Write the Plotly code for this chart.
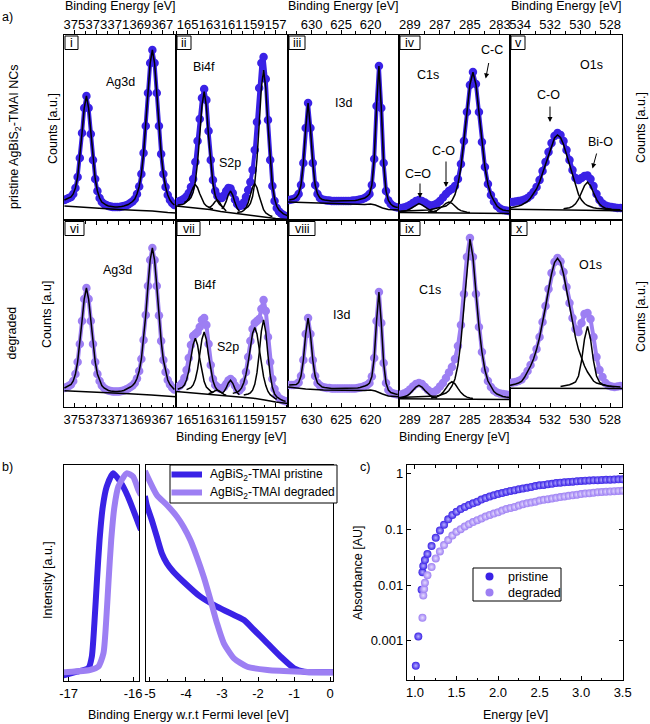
import plotly.graph_objects as go

W, H = 650, 724
FONT = "Liberation Sans"
PRIS = "#3a22e6"
DEGR = "#9d7ff3"
BLACK = "black"

# ======================= a) XPS data (counts, arb. units) =======================
# Energy grids: start value and step (eV, decreasing)
ag_from, ag_step = 375.9, 0.2
bi_from, bi_step = 165.9, 0.2
i3_from, i3_step = 633.8, 0.4
c1_from, c1_step = 289.8, 0.2
o1_from, o1_step = 534.7, 0.2

# --- i) pristine Ag3d
i_counts = [20, 21, 22, 23, 26, 32, 43, 62, 87, 112,
            124, 112, 86, 60, 41, 29, 22, 18, 16, 15,
            14, 13.5, 13, 13, 13, 13, 13.5, 14, 14.5, 15.5,
            17, 18.5, 21, 26, 33.5, 46, 67, 94, 127, 157,
            170, 157, 127, 94, 66, 46, 33, 25, 20, 17,
            15]
i_bg_E = [375.9, 374.5, 373.0, 371.0, 369.0, 367.9, 366.5, 365.7]
i_bg = [14, 13, 11.5, 10.5, 9.5, 9, 7.5, 7]

# --- ii) pristine Bi4f / S2p
ii_counts = [18, 19, 20, 21.5, 23.5, 27, 33, 41, 58, 79,
             101, 122, 131, 120, 89, 60, 40, 29, 24, 22.5,
             22, 24.5, 29, 32, 31.5, 27, 20.5, 16, 14, 14.5,
             17.5, 23, 30, 38, 50, 70, 98, 132, 157, 163,
             141, 100, 60, 34, 19, 12, 8.5, 6.5, 5, 4,
             3.5]
ii_bi52b_from = 165.9
ii_bi52b = [14.9, 15.1, 15.4, 16.3, 18.3, 21.9, 27.1, 32.7, 35.3, 32.3, 26.3, 20.6, 16.5, 14, 12.6, 11.8, 11]
ii_bi52_from = 165.3
ii_bi52 = [17.5, 18.4, 19.8, 22.4, 27.8, 38.6, 57.6, 85.1, 114.4, 128.3, 113.8, 83.9, 55.9, 36.3, 24.8, 18.8, 15.6, 13.6, 12.2]
ii_s2p_a_from = 163.1
ii_s2p_a = [12.1, 13.3, 15.5, 18.5, 20.1, 17.7, 13.8, 10.9, 9]
ii_s2p_b_from = 161.9
ii_s2p_b = [11.2, 13.7, 18.6, 25.3, 29, 24.7, 17.4, 11.8, 8.7]
ii_bi72b_from = 160.5
ii_bi72b = [7.6, 7.7, 8.2, 9.5, 12.2, 17.2, 24.8, 32.8, 36.5, 32.3, 23.9, 15.9, 10.3, 7.1, 5.2, 4.2, 3.5]
ii_bi72_from = 159.9
ii_bi72 = [10.5, 11.5, 13.3, 16.6, 23.5, 37, 60.7, 95.5, 132.3, 150, 131.8, 94.5, 59.3, 35, 21.1, 13.7, 10, 7.7, 6.2, 5.1, 4.2]
ii_bg_E = [166.1, 165, 164, 163, 162, 161, 160, 159, 158, 157, 155.8]
ii_bg = [14, 13, 12, 10.5, 8.5, 7, 5.5, 4, 3, 1.5, 0.5]

# --- iii) pristine I3d
iii_counts = [20, 20.5, 21, 22.5, 26, 35, 57, 92, 117, 92,
              57, 35, 26, 22, 20.5, 20, 19.5, 19.5, 19, 19,
              19, 19, 19, 19, 19, 19, 19, 19.5, 19.5, 20,
              20.5, 21, 22, 23.5, 26, 35, 61, 114, 154, 112,
              57, 29, 19.5, 16, 14, 13, 12.5]
iii_bg_E = [634.1, 631, 628, 624, 621, 620, 619.2, 618, 617, 615.1]
iii_bg = [18, 17.5, 16.5, 16, 15.5, 16, 15, 12, 10.5, 10]

# --- iv) pristine C1s
iv_counts = [11.5, 12, 12.5, 13.5, 15, 17, 19, 20, 19, 17.5,
             15.5, 14.5, 15, 16.5, 19, 22.5, 26, 29, 31, 34,
             41, 56, 79, 108, 135, 148, 136, 108, 78, 53,
             36, 25, 18.5, 14, 11.5, 10, 9.5, 9, 8.7]
iv_cc = [8.6, 8.7, 8.7, 8.8, 8.9, 9.0, 9.2, 9.4, 9.5, 9.8,
         10, 10.4, 11, 11.5, 12.2, 13.2, 14, 16.2, 19.5, 25.3,
         35.8, 52.7, 77.4, 107.6, 135.5, 147.8, 135.5, 107.5, 77.2, 52.5,
         35.6, 25, 19.1, 14, 11.5, 10, 9.5, 9, 8.7]
iv_cdo_from = 289.6
iv_cdo = [8.4, 8.7, 9.5, 11, 13, 15.3, 16.4, 15.2, 12.9, 10.7, 9.2, 8.4, 7.9]
iv_co_from = 287.8
iv_co = [7.9, 8.1, 8.6, 9.6, 11.4, 14, 16.7, 18, 16.7, 13.9, 11.2, 9.4, 8.3, 7.8, 7.5]
iv_bg_E = [289.9, 287, 285, 282.2]
iv_bg = [7.6, 7.1, 6.8, 6.5]

# --- v) pristine O1s
v_counts = [18, 18, 18.5, 19, 19.5, 20.5, 22, 24.5, 28, 33,
            40, 49, 58, 68, 77, 84, 87, 85, 79, 70,
            60, 50, 42, 40, 42, 44, 44.5, 41, 34, 26,
            20, 16.5, 14.5, 13.5, 13, 12.5, 12, 12]
v_co = [12, 12.5, 13, 14, 15, 16.5, 18.5, 22, 26, 31,
        38, 47, 56, 66, 75, 82, 85, 82.5, 75.5, 65.5,
        54.5, 43.5, 33.5, 25.5, 20, 16.5, 14.5, 13, 12.2, 11.7,
        11.3, 11, 10.8, 10.6, 10.5, 10.4, 10.3, 10.2]
v_bio_from = 531.1
v_bio = [11.2, 11.6, 12.3, 13.6, 16.2, 20.8, 27.3, 34.4, 37.8, 34.3, 27.2, 20.6, 15.9, 13.3, 11.8, 11.2, 10.8]
v_bg_E = [534.8, 527.1]
v_bg = [10.7, 9.3]

# --- vi) degraded Ag3d
vi_counts = [19, 20, 21, 22.5, 26, 33, 45, 63, 86, 108,
             119, 108, 86, 63, 45, 33, 26, 21.5, 19, 17.5,
             16.5, 16, 15.5, 15.5, 15.5, 15.5, 16, 16.5, 17.5, 18.5,
             20, 21.5, 24, 28.5, 36, 48, 67, 92, 121, 147,
             159, 147, 121, 91.5, 66, 47, 35, 27, 22.5, 19.5,
             17.5]
vi_bg_E = [375.9, 374, 372, 370, 368, 366, 365.7]
vi_bg = [16.3, 15.5, 14, 13.2, 12, 10.8, 10.3]

# --- vii) degraded Bi4f / S2p
vii_counts = [20, 21.5, 24, 29, 37, 49, 62, 71, 73, 75,
              80, 87, 89, 82, 63, 42, 28, 22, 20, 18.5,
              18.5, 20, 23, 26.5, 28, 26, 21.5, 17.5, 16.5, 19,
              25, 35, 50, 66, 78, 84, 86, 88, 98, 107,
              96, 70, 45, 28, 18, 12, 9, 7.5, 6.5, 5.8,
              5.3]
vii_bi52b_from = 165.9
vii_bi52b = [17.8, 18.4, 19.6, 22, 27, 35.9, 48.8, 62.4, 68.8, 62, 48, 34.7, 25.4, 20, 17.2, 15.6, 14.7]
vii_bi52_from = 165.1
vii_bi52 = [17.4, 18.1, 19.3, 22.1, 27.8, 37.7, 52.2, 67.8, 75, 67.4, 51.4, 36.5, 26.2, 20.1, 16.9, 15.3, 14.2]
vii_s2p_a_from = 163.1
vii_s2p_a = [13.3, 13.8, 14.8, 16.3, 17, 15.9, 14, 12.6, 11.7]
vii_s2p_b_from = 161.9
vii_s2p_b = [13.5, 15.4, 19, 24, 26.8, 23.7, 18.4, 14.5, 12.2]
vii_bi72b_from = 160.9
vii_bi72b = [13.6, 14, 14.9, 16.4, 19.1, 24.3, 32.6, 44.7, 59.7, 73.6, 79.6, 73.1, 58.7, 43.2, 30.3, 21.4, 15.6, 12.3, 10.2, 8.8, 7.8]
vii_bi72_from = 159.9
vii_bi72 = [12.1, 12.5, 13, 14.2, 16.8, 22.7, 34.3, 53.4, 75.9, 87.2, 75, 51.8, 32, 19.7, 13.2, 10, 8.3, 7.2, 6.3, 5.6]
vii_bg_E = [166.1, 165, 164, 163, 162, 161, 160, 159, 158, 157, 155.8]
vii_bg = [15.5, 14.5, 13.5, 12.5, 11.7, 10.8, 9.8, 8.7, 7, 5, 3.5]

# --- viii) degraded I3d
viii_counts = [22, 22, 22, 22.5, 24.5, 31, 47, 73, 89, 73,
               47, 31, 24, 21.5, 20, 19.5, 19, 19, 18.5, 18.5,
               18.5, 18.5, 18.5, 18.5, 18.5, 18.5, 18.5, 18.5, 18.5, 19,
               19.5, 20, 21, 22, 24, 30.5, 49, 86, 115, 84,
               44, 24, 17, 14.5, 13.5, 13, 12.5]
viii_bg_E = [634.1, 631, 628, 624, 621, 620, 619.2, 618, 617, 615.1]
viii_bg = [20, 18, 17, 16.5, 16.5, 17, 16, 13, 11, 10.3]

# --- ix) degraded C1s
ix_counts = [12, 12.5, 13.5, 15, 17.5, 20.5, 23, 24, 23, 20,
             17, 15, 15, 17, 20.5, 24, 29, 34.5, 40, 48,
             61, 82, 113, 150, 169, 150, 113, 80, 55, 37,
             26, 20, 16.5, 14.5, 13.5, 13, 12.5, 12, 12]
ix_cc = [9.4, 9.5, 9.5, 9.6, 9.7, 9.8, 9.9, 10, 10.1, 10.2,
         10.3, 10.4, 10.5, 11, 11.7, 12.5, 14, 16.5, 21, 28,
         42, 66, 100, 140, 168, 150, 113, 80, 55, 37,
         26, 20, 15.5, 13, 11.5, 10.5, 10, 9.5, 9.2]
ix_cdo_from = 289.6
ix_cdo = [9.3, 9.9, 11.2, 13.4, 16.5, 20, 21.6, 20, 16.4, 13.2, 11, 9.6, 8.9]
ix_co_from = 287.6
ix_co = [8.9, 9.3, 10.1, 11.8, 14.6, 18.7, 23.2, 25.3, 23.2, 18.6, 14.4, 11.6, 9.9, 9.1, 8.6]
ix_bg_E = [289.9, 286, 282.2]
ix_bg = [8.2, 7.7, 7.4]

# --- x) degraded O1s
x_counts = [24, 24.5, 25, 26, 27.5, 31, 36, 42, 49.5, 58,
            70, 85, 101, 118, 134, 145, 149, 145.5, 135, 120,
            104, 89, 78, 75, 84, 93, 94, 88, 70, 50,
            37, 30, 24, 21.5, 20.5, 20, 20.5, 21]
x_co = [21.5, 22, 23, 24, 25.5, 29.7, 35, 41, 48, 57.4,
        69.4, 83.7, 100, 117, 133, 144.4, 148.7, 144.4, 133, 117,
        100, 83.7, 69.4, 57.4, 48, 41, 35, 30, 26, 24,
        23, 22, 21.5, 21, 20.8, 20.5, 20.3, 20]
x_bio_from = 531.3
x_bio = [20.4, 20.8, 21.4, 22.3, 23.5, 25, 31, 46, 68, 80.7, 68, 46, 31, 25, 22.5, 21.5, 21, 20.6, 20.3]
x_bg_E = [534.8, 527.1]
x_bg = [18.7, 18.5]

# ======================= b) UPS =======================
b_lo_E_pris = [-17.1, -17.06, -16.87, -16.69, -16.64, -16.60, -16.56, -16.52, -16.47, -16.41, -16.31, -16.20, -16.08, -15.92, -15.88]
b_lo_I_pris = [5.5, 6, 9.3, 13.3, 24.3, 57.7, 101, 141, 174.3, 194.3, 207.7, 199.3, 184.3, 157.7, 151]
b_lo_E_degr = [-17.1, -17.06, -16.67, -16.54, -16.46, -16.42, -16.38, -16.34, -16.29, -16.23, -16.10, -16.00, -15.92, -15.88]
b_lo_I_degr = [8.5, 8.7, 11, 14.3, 27.7, 57.7, 101, 141, 174.3, 194.3, 207.7, 204.3, 191, 186]
b_hi_E_pris = [-5.14, -5.09, -4.95, -4.81, -4.67, -4.53, -4.35, -4.07, -3.60, -3.14, -2.67, -2.39, -2.11, -1.74, -1.37, -1.00, -0.72, 0.0, 0.1]
b_hi_I_pris = [185, 176, 161, 144.3, 127.7, 117.7, 109.3, 99.3, 84.3, 74.3, 66, 61, 51, 37.7, 24.3, 12.7, 9.3, 8.7, 8.7]
b_hi_E_degr = [-5.14, -5.09, -4.81, -4.53, -4.25, -4.07, -3.88, -3.70, -3.51, -3.32, -3.14, -2.95, -2.67, -2.30, -1.74, -0.81, 0.0, 0.1]
b_hi_I_degr = [210, 206, 186, 176, 164.3, 154.3, 141, 124.3, 104.3, 81, 57.7, 37.7, 22.7, 14.3, 11, 9.3, 8.7, 8.7]
b_names = ["AgBiS<sub>2</sub>-TMAI pristine", "AgBiS<sub>2</sub>-TMAI degraded"]

# ======================= c) Absorbance =======================
c_E_pris = [1.01, 1.04, 1.08, 1.09, 1.10, 1.12, 1.15] + [round(1.20 + 0.05 * k, 2) for k in range(47)]
c_A_pris = [0.00036, 0.0012, 0.0082, 0.017, 0.022, 0.028, 0.036,
            0.050, 0.070, 0.095, 0.12, 0.15, 0.18, 0.205, 0.23, 0.25, 0.27,
            0.29, 0.31, 0.34, 0.36, 0.385, 0.405, 0.425, 0.445, 0.465, 0.485,
            0.50, 0.52, 0.535, 0.55, 0.57, 0.59, 0.61, 0.62, 0.64, 0.65,
            0.67, 0.68, 0.69, 0.70, 0.71, 0.72, 0.73, 0.74, 0.745, 0.75,
            0.755, 0.76, 0.765, 0.77, 0.775, 0.78, 0.78]
c_E_degr = [1.09, 1.10, 1.11, 1.12, 1.15] + [round(1.20 + 0.05 * k, 2) for k in range(47)]
c_A_degr = [0.0026, 0.0065, 0.0085, 0.011, 0.015,
            0.021, 0.030, 0.040, 0.052, 0.064, 0.077, 0.090, 0.10, 0.112, 0.123,
            0.134, 0.145, 0.156, 0.168, 0.18, 0.19, 0.20, 0.215, 0.23, 0.24,
            0.25, 0.265, 0.28, 0.29, 0.30, 0.31, 0.325, 0.335, 0.345, 0.355,
            0.365, 0.375, 0.385, 0.395, 0.405, 0.415, 0.425, 0.435, 0.44, 0.45,
            0.46, 0.465, 0.47, 0.475, 0.48, 0.485, 0.49]
c_names = ["pristine", "degraded"]

# ======================= helpers =======================
def grid(start, step, n):
    return [round(start - step * k, 3) for k in range(n)]

def fx(p):
    return p / W

def fy(p):
    return 1 - p / H

def xn(k):
    return "x" if k == 1 else f"x{k}"

def yn(k):
    return "y" if k == 1 else f"y{k}"

fig = go.Figure()

def add_data(k, start, step, vals, color):
    fig.add_trace(go.Scatter(x=grid(start, step, len(vals)), y=vals, xaxis=xn(k), yaxis=yn(k),
                             mode="lines+markers", line=dict(color=color, width=4),
                             marker=dict(size=8.5, color=color), showlegend=False, hoverinfo="skip"))

def add_fit(k, start, step, vals):
    fig.add_trace(go.Scatter(x=grid(start, step, len(vals)), y=vals, xaxis=xn(k), yaxis=yn(k),
                             mode="lines", line=dict(color=BLACK, width=1.5),
                             showlegend=False, hoverinfo="skip"))

def add_bg(k, E, I):
    fig.add_trace(go.Scatter(x=E, y=I, xaxis=xn(k), yaxis=yn(k), mode="lines",
                             line=dict(color=BLACK, width=1.5), showlegend=False, hoverinfo="skip"))

# ---- panel a traces ----
add_data(1, ag_from, ag_step, i_counts, PRIS)
add_fit(1, ag_from, ag_step, i_counts)
add_bg(1, i_bg_E, i_bg)

add_data(2, bi_from, bi_step, ii_counts, PRIS)
for st, vals in [(ii_bi52b_from, ii_bi52b), (ii_bi52_from, ii_bi52), (ii_s2p_a_from, ii_s2p_a),
                 (ii_s2p_b_from, ii_s2p_b), (ii_bi72b_from, ii_bi72b), (ii_bi72_from, ii_bi72)]:
    add_fit(2, st, bi_step, vals)
add_bg(2, ii_bg_E, ii_bg)

add_data(3, i3_from, i3_step, iii_counts, PRIS)
add_fit(3, i3_from, i3_step, iii_counts)
add_bg(3, iii_bg_E, iii_bg)

add_data(4, c1_from, c1_step, iv_counts, PRIS)
add_fit(4, c1_from, c1_step, iv_cc)
add_fit(4, iv_cdo_from, c1_step, iv_cdo)
add_fit(4, iv_co_from, c1_step, iv_co)
add_bg(4, iv_bg_E, iv_bg)

add_data(5, o1_from, o1_step, v_counts, PRIS)
add_fit(5, o1_from, o1_step, v_co)
add_fit(5, v_bio_from, o1_step, v_bio)
add_bg(5, v_bg_E, v_bg)

add_data(6, ag_from, ag_step, vi_counts, DEGR)
add_fit(6, ag_from, ag_step, vi_counts)
add_bg(6, vi_bg_E, vi_bg)

add_data(7, bi_from, bi_step, vii_counts, DEGR)
for st, vals in [(vii_bi52b_from, vii_bi52b), (vii_bi52_from, vii_bi52), (vii_s2p_a_from, vii_s2p_a),
                 (vii_s2p_b_from, vii_s2p_b), (vii_bi72b_from, vii_bi72b), (vii_bi72_from, vii_bi72)]:
    add_fit(7, st, bi_step, vals)
add_bg(7, vii_bg_E, vii_bg)

add_data(8, i3_from, i3_step, viii_counts, DEGR)
add_fit(8, i3_from, i3_step, viii_counts)
add_bg(8, viii_bg_E, viii_bg)

add_data(9, c1_from, c1_step, ix_counts, DEGR)
add_fit(9, c1_from, c1_step, ix_cc)
add_fit(9, ix_cdo_from, c1_step, ix_cdo)
add_fit(9, ix_co_from, c1_step, ix_co)
add_bg(9, ix_bg_E, ix_bg)

add_data(10, o1_from, o1_step, x_counts, DEGR)
add_fit(10, o1_from, o1_step, x_co)
add_fit(10, x_bio_from, o1_step, x_bio)
add_bg(10, x_bg_E, x_bg)

# ---- panel b traces ----
lw = 6
for E, I, k, col in [(b_lo_E_pris, b_lo_I_pris, 11, PRIS), (b_hi_E_pris, b_hi_I_pris, 12, PRIS),
                     (b_lo_E_degr, b_lo_I_degr, 11, DEGR), (b_hi_E_degr, b_hi_I_degr, 12, DEGR)]:
    fig.add_trace(go.Scatter(x=E, y=I, xaxis=xn(k), yaxis=yn(k), mode="lines",
                             line=dict(color=col, width=lw, shape="spline", smoothing=0.6),
                             showlegend=False, hoverinfo="skip"))

# ---- panel c traces ----
fig.add_trace(go.Scatter(x=c_E_pris, y=c_A_pris, xaxis=xn(13), yaxis=yn(13), mode="markers",
                         marker=dict(size=8, color=PRIS, line=dict(width=0),
                                     gradient=dict(type="radial", color="#b8b0ff")),
                         showlegend=False, hoverinfo="skip"))
fig.add_trace(go.Scatter(x=c_E_degr, y=c_A_degr, xaxis=xn(13), yaxis=yn(13), mode="markers",
                         marker=dict(size=8, color=DEGR, line=dict(width=0),
                                     gradient=dict(type="radial", color="#e6dcff")),
                         showlegend=False, hoverinfo="skip"))

# ======================= layout =======================
tickfont = dict(family=FONT, size=13, color=BLACK)
layout = dict(template="none", width=W, height=H, margin=dict(l=0, r=0, t=0, b=0, autoexpand=False),
              paper_bgcolor="white", plot_bgcolor="white", showlegend=False,
              font=dict(family=FONT, color=BLACK))

cols = [(64, 176), (176, 288), (288, 399), (399, 510), (510, 622)]
xranges = [[375.94, 365.75], [166.06, 155.88], [634.0, 615.2], [289.73, 282.33], [534.67, 527.2]]
ticks_cfg = [(1, 2, 1), (1, 2, 1), (0, 5, 2.5), (1, 2, 1), (0, 2, 1)]

def axkey(prefix, k):
    return prefix if k == 1 else f"{prefix}{k}"

common = dict(showline=True, linecolor=BLACK, linewidth=1.2, showgrid=False, zeroline=False,
              automargin=False, fixedrange=True, tickangle=0)

for r in range(2):
    for c in range(5):
        k = r * 5 + c + 1
        x0, x1 = cols[c]
        y0, y1 = (35, 220) if r == 0 else (220, 407)
        t0, dt, mdt = ticks_cfg[c]
        tdir = "outside" if r == 0 else "inside"
        layout[axkey("xaxis", k)] = dict(
            common, domain=[fx(x0), fx(x1)], anchor=yn(k), range=xranges[c], mirror="ticks",
            tickmode="linear", tick0=t0, dtick=dt,
            tickfont=tickfont, ticks=tdir, ticklen=4, tickwidth=1, tickcolor=BLACK,
            side="top" if r == 0 else "bottom", ticklabelstandoff=-4 if r == 0 else 0,
            minor=dict(ticks=tdir, tick0=t0, dtick=mdt, ticklen=2.5, tickwidth=1, tickcolor=BLACK))
        layout[axkey("yaxis", k)] = dict(
            common, domain=[fy(y1), fy(y0)], anchor=xn(k), range=[0, 185 if r == 0 else 187],
            mirror=True, showticklabels=False, ticks="")

layout["xaxis11"] = dict(common, domain=[fx(64), fx(139)], anchor="y11", range=[-17.07, -15.91],
                         mirror=True, tickmode="array",
                         tickvals=[-17, -16], ticktext=["-17", "-16"], tickfont=tickfont,
                         ticks="inside", ticklen=4, tickcolor=BLACK,
                         minor=dict(ticks="inside", tick0=0, dtick=0.5, ticklen=2.5, tickcolor=BLACK))
layout["yaxis11"] = dict(common, domain=[fy(681), fy(465)], anchor="x11", range=[0, 216],
                         mirror=True, showticklabels=False, ticks="")
layout["xaxis12"] = dict(common, domain=[fx(146), fx(333)], anchor="y12", range=[-5.11, 0.08],
                         mirror=True, tickmode="array",
                         tickvals=[-5, -4, -3, -2, -1, 0], ticktext=["-5", "-4", "-3", "-2", "-1", "0"],
                         tickfont=tickfont, ticks="inside", ticklen=4, tickcolor=BLACK,
                         minor=dict(ticks="inside", tick0=0, dtick=0.5, ticklen=2.5, tickcolor=BLACK))
layout["yaxis12"] = dict(common, domain=[fy(681), fy(465)], anchor="x12", range=[0, 216],
                         mirror=True, showticklabels=False, ticks="")
layout["xaxis13"] = dict(common, domain=[fx(407), fx(623)], anchor="y13", range=[0.904, 3.504],
                         mirror="ticks", tickmode="array",
                         tickvals=[1.0, 1.5, 2.0, 2.5, 3.0, 3.5],
                         ticktext=["1.0", "1.5", "2.0", "2.5", "3.0", "3.5"],
                         tickfont=tickfont, ticks="inside", ticklen=4, tickcolor=BLACK,
                         minor=dict(ticks="inside", tick0=0, dtick=0.25, ticklen=2.5, tickcolor=BLACK))
layout["yaxis13"] = dict(common, domain=[fy(680), fy(465)], anchor="x13", type="log", range=[-3.70, 0.149],
                         mirror="ticks", tickmode="array",
                         tickvals=[0.001, 0.01, 0.1, 1], ticktext=["0.001", "0.01", "0.1", "1"],
                         tickfont=tickfont, ticks="inside", ticklen=4, tickcolor=BLACK)

# ---- annotations & shapes ----
ann = []
shapes = []

def text(x, y, s, size=12.5, angle=0, xanchor="center"):
    ann.append(dict(x=fx(x), y=fy(y), xref="paper", yref="paper", text=s, showarrow=False,
                    font=dict(family=FONT, size=size, color=BLACK), textangle=angle,
                    xanchor=xanchor, yanchor="middle"))

def arrow(tx, ty, hx, hy):
    ann.append(dict(x=fx(hx), y=fy(hy), xref="paper", yref="paper", text="", showarrow=True,
                    ax=tx - hx, ay=ty - hy, arrowhead=2, arrowsize=1, arrowwidth=1,
                    arrowcolor=BLACK))

def rect(x0, y0, x1, y1):
    shapes.append(dict(type="rect", xref="paper", yref="paper", x0=fx(x0), x1=fx(x1),
                       y0=fy(y1), y1=fy(y0), line=dict(color=BLACK, width=1),
                       fillcolor="white", layer="above"))

for cx in (120, 343.5, 566.7):
    text(cx, 6.5, "Binding Energy [eV]")
for cx in (232, 455):
    text(cx, 437, "Binding Energy [eV]")
text(188, 715, "Binding Energy w.r.t Fermi level [eV]")
text(515, 715, "Energy [eV]")
text(53, 128, "Counts [a.u.]", angle=-90)
text(47, 315, "Counts [a.u]", angle=-90)
text(641, 128, "Counts [a.u.]", angle=-90)
text(641, 317, "Counts [a.u.]", angle=-90)
text(15, 137, "pristine AgBiS<sub>2</sub>-TMAI NCs", angle=-90)
text(11.5, 333, "degraded", angle=-90)
text(48, 580, "Intensity [a.u.]", angle=-90)
text(358, 573, "Absorbance [AU]", angle=-90)
text(7, 17, "a)")
text(7, 467, "b)")
text(365, 467, "c)")

for (x, y, s) in [(120.7, 81.7, "Ag3d"), (204, 66.7, "Bi4f"), (230, 163, "S2p"), (343, 103, "I3d"),
                  (428, 75, "C1s"), (492, 50, "C-C"), (443, 151, "C-O"), (418, 174, "C=O"),
                  (591.7, 65, "O1s"), (548, 95, "C-O"), (600, 142, "Bi-O"),
                  (117, 270, "Ag3d"), (205, 285, "Bi4f"), (228, 347, "S2p"), (341, 315, "I3d"),
                  (430, 290, "C1s"), (590.7, 265, "O1s")]:
    text(x, y, s)

arrow(489, 61.5, 485.7, 78.5)
arrow(446, 160, 446, 187)
arrow(420, 182, 420, 198)
arrow(550, 105, 550, 122)
arrow(597, 152, 592.5, 168.5)

romans_top = ["i", "ii", "iii", "iv", "v"]
romans_bot = ["vi", "vii", "viii", "ix", "x"]
w_top = [13, 14, 16, 20, 14]
w_bot = [19, 23, 26, 20, 16]
for c in range(5):
    for (lab, w, y0, y1) in [(romans_top[c], w_top[c], 36, 49.5), (romans_bot[c], w_bot[c], 221.5, 235.5)]:
        x0 = cols[c][0] + 1
        rect(x0, y0, x0 + w, y1)
        text(x0 + w / 2, (y0 + y1) / 2 + 0.5, lab, size=12.5)

# legend b (manual)
rect(170, 465, 337, 503)
for j, (col, yy) in enumerate([(PRIS, 474.5), (DEGR, 492.5)]):
    shapes.append(dict(type="line", xref="paper", yref="paper", x0=fx(171.5), x1=fx(202),
                       y0=fy(yy), y1=fy(yy), line=dict(color=col, width=6), layer="above"))
    text(208, yy, b_names[j], size=12, xanchor="left")

# legend c (manual)
rect(473, 568, 561, 601)
for j, (col, yy) in enumerate([(PRIS, 576.5), (DEGR, 592.5)]):
    shapes.append(dict(type="circle", xref="paper", yref="paper", x0=fx(485.5), x1=fx(493.5),
                       y0=fy(yy + 4), y1=fy(yy - 4), line=dict(width=0), fillcolor=col, layer="above"))
    text(506, yy, c_names[j], size=12.5, xanchor="left")

layout["annotations"] = ann
layout["shapes"] = shapes
fig.update_layout(**layout)

fig.write_html("out.html", config={"displayModeBar": False, "staticPlot": True},
               post_script="document.body.style.margin='0';document.body.style.overflow='hidden';")
